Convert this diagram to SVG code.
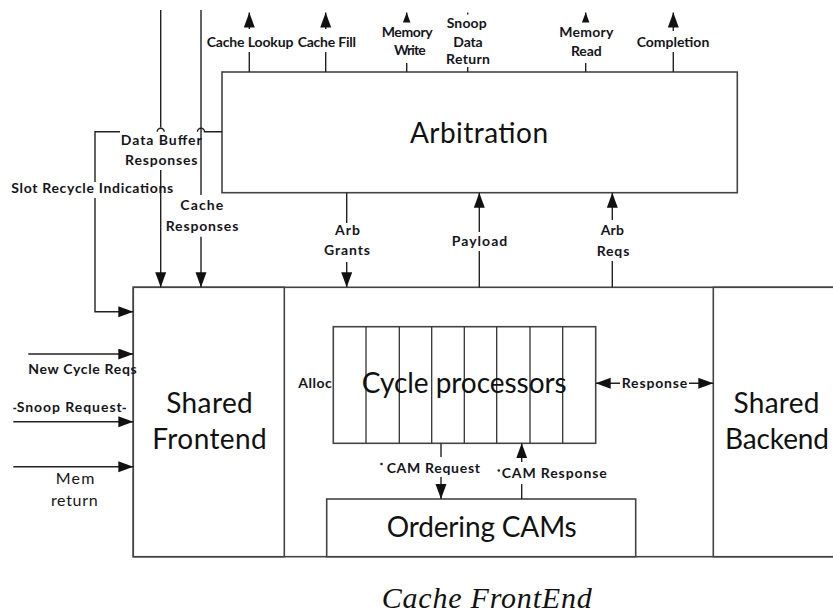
<svg xmlns="http://www.w3.org/2000/svg" width="833" height="615" viewBox="0 0 833 615">
<defs>
<style>
.box{fill:#fff;stroke:#444;stroke-width:1.6}
.div{stroke:#333;stroke-width:1.3}
.con{fill:none;stroke:#222;stroke-width:1.4}
.big{font-family:Lato,"Liberation Sans",sans-serif;font-size:28px;fill:#111;text-anchor:middle}
.lbl{font-family:Lato,"Liberation Sans",sans-serif;font-size:14px;font-weight:bold;fill:#151520;text-anchor:middle}
.reg{font-family:Lato,"Liberation Sans",sans-serif;font-size:16px;fill:#151515;text-anchor:middle}
.cap{font-family:"Liberation Serif","Times New Roman",serif;font-style:italic;font-size:30px;fill:#111;text-anchor:middle}
</style>
<marker id="ah" markerUnits="userSpaceOnUse" markerWidth="16" markerHeight="12" refX="15" refY="5.5" orient="auto-start-reverse"><path d="M0,0 L15,5.5 L0,11 z" fill="#111"/></marker>
<marker id="ahs" markerUnits="userSpaceOnUse" markerWidth="11" markerHeight="8" refX="10" refY="3.75" orient="auto"><path d="M0,0 L10,3.75 L0,7.5 z" fill="#111"/></marker>
</defs>
<rect width="833" height="615" fill="#fff"/>

<g id="container">
<rect class="box" x="133.3" y="287.3" width="720" height="269.4"/>
</g>
<g id="arbitration">
<rect class="box" x="222" y="72" width="515.3" height="120.7"/>
<text class="big" x="479" y="142.7" textLength="138">Arbitration</text>
</g>
<g id="shared-frontend">
<rect class="box" x="133.3" y="287.3" width="151" height="269.4"/>
<text class="big" x="209.5" y="413.3" textLength="86.6">Shared</text>
<text class="big" x="209.5" y="449.3" textLength="114.4">Frontend</text>
</g>
<g id="shared-backend">
<rect class="box" x="713.3" y="287.3" width="140" height="269.4"/>
<text class="big" x="776.5" y="413.3" textLength="86">Shared</text>
<text class="big" x="777" y="449.3" textLength="104">Backend</text>
</g>
<g id="cycle-processors">
<rect class="box" x="333.3" y="326.7" width="262.4" height="116.6"/>
<path class="div" d="M366,326.7V443.3M399.3,326.7V443.3M431.7,326.7V443.3M464.3,326.7V443.3M496.7,326.7V443.3M530,326.7V443.3M562.7,326.7V443.3"/>
<text class="big" x="464.2" y="393.3" font-size="27" textLength="205">Cycle processors</text>
<text class="lbl" x="315" y="388.3" fill="#1e2650" textLength="33.4">Alloc</text>
</g>
<g id="ordering-cams">
<rect class="box" x="326.7" y="499" width="309" height="57.7"/>
<text class="big" x="481.7" y="537" font-size="27" textLength="190">Ordering CAMs</text>
</g>

<g id="connectors">
<path class="con" d="M249.3,72V52M249.3,29V12.5" marker-end="url(#ah)"/>
<path class="con" d="M325.7,72V52M325.7,29V12.5" marker-end="url(#ah)"/>
<path class="con" d="M406.7,72V63M406.7,22V12.5" marker-end="url(#ahs)"/>
<path class="con" d="M467.7,72V67M467.7,14.5V12.5"/>
<path class="con" d="M585.7,72V63M585.7,22V12.5" marker-end="url(#ahs)"/>
<path class="con" d="M673.3,72V52M673.3,31V12.5" marker-end="url(#ah)"/>
<path class="con" d="M160.7,10V127.5M160.7,170V287.3" marker-end="url(#ah)"/>
<path class="con" d="M201,10V195M201,236.7V287.3" marker-end="url(#ah)"/>
<path class="con" d="M222,131.7H204.5A3.5,3.5 0 0 0 197.5,131.7M164.2,131.7A3.5,3.5 0 0 0 157.2,131.7M120,131.7H95V182M95,198V311.7H133.3" marker-end="url(#ah)"/>
<path class="con" d="M28.3,354H133.3" marker-end="url(#ah)"/>
<path class="con" d="M13.3,421.7H133.3" marker-end="url(#ah)"/>
<path class="con" d="M13.3,408.5H16.3M122.5,408.5H126"/>
<path class="con" d="M13.3,466.7H133.3" marker-end="url(#ah)"/>
<path class="con" d="M346.7,192.7V223M346.7,262V287.3" marker-end="url(#ah)"/>
<path class="con" d="M479.3,287.3V251M479.3,232V192.7" marker-end="url(#ah)"/>
<path class="con" d="M612.3,287.3V261M612.3,220V192.7" marker-end="url(#ah)"/>
<path class="con" d="M595.7,383.3H620M689,383.3H713.3" marker-start="url(#ah)" marker-end="url(#ah)"/>
<path class="con" d="M441,443.3V457M441,477V499" marker-end="url(#ah)"/>
<path class="con" d="M521.7,499V484M521.7,462V443.3" marker-end="url(#ah)"/>
<circle cx="381.5" cy="464" r="1.3" fill="#222"/>
<circle cx="498.8" cy="470.5" r="1.3" fill="#222"/>
</g>

<g id="labels">
<text class="lbl" x="250" y="46.7" textLength="86.7">Cache Lookup</text>
<text class="lbl" x="326.8" y="46.7" textLength="58.3">Cache Fill</text>
<text class="lbl" x="407.2" y="36.7" textLength="51">Memory</text>
<text class="lbl" x="409.8" y="55" textLength="31.7">Write</text>
<text class="lbl" x="466.7" y="28.3" textLength="40">Snoop</text>
<text class="lbl" x="468" y="46.7" textLength="29.4">Data</text>
<text class="lbl" x="468" y="64" textLength="44">Return</text>
<text class="lbl" x="586.3" y="36.7" textLength="54">Memory</text>
<text class="lbl" x="586.3" y="56" textLength="30.7">Read</text>
<text class="lbl" x="673" y="46.7" textLength="72.6">Completion</text>
<text class="lbl" x="161.2" y="145" textLength="81">Data Buffer</text>
<text class="lbl" x="161.2" y="165" textLength="72.3">Responses</text>
<text class="lbl" x="92.2" y="193.3" textLength="162">Slot Recycle Indications</text>
<text class="lbl" x="201.8" y="210" textLength="43">Cache</text>
<text class="lbl" x="202" y="231" textLength="72.6">Responses</text>
<text class="lbl" x="347.5" y="235" textLength="25">Arb</text>
<text class="lbl" x="347" y="255" textLength="46">Grants</text>
<text class="lbl" x="479.5" y="246" textLength="55.6">Payload</text>
<text class="lbl" x="612.3" y="235" textLength="23.3">Arb</text>
<text class="lbl" x="613" y="256" textLength="32.6">Reqs</text>
<text class="lbl" x="82.5" y="374.3" textLength="108.4">New Cycle Reqs</text>
<text class="lbl" x="69.2" y="411.7" textLength="105">Snoop Request</text>
<text class="reg" x="75" y="484" textLength="38.6">Mem</text>
<text class="reg" x="74.3" y="506" textLength="46.7">return</text>
<text class="lbl" x="654.5" y="388.3" textLength="65.6">Response</text>
<text class="lbl" x="433.3" y="473.3" textLength="93.3">CAM Request</text>
<text class="lbl" x="554.2" y="478.3" textLength="105">CAM Response</text>
</g>

<text class="cap" x="486.7" y="608" textLength="210">Cache FrontEnd</text>
</svg>
